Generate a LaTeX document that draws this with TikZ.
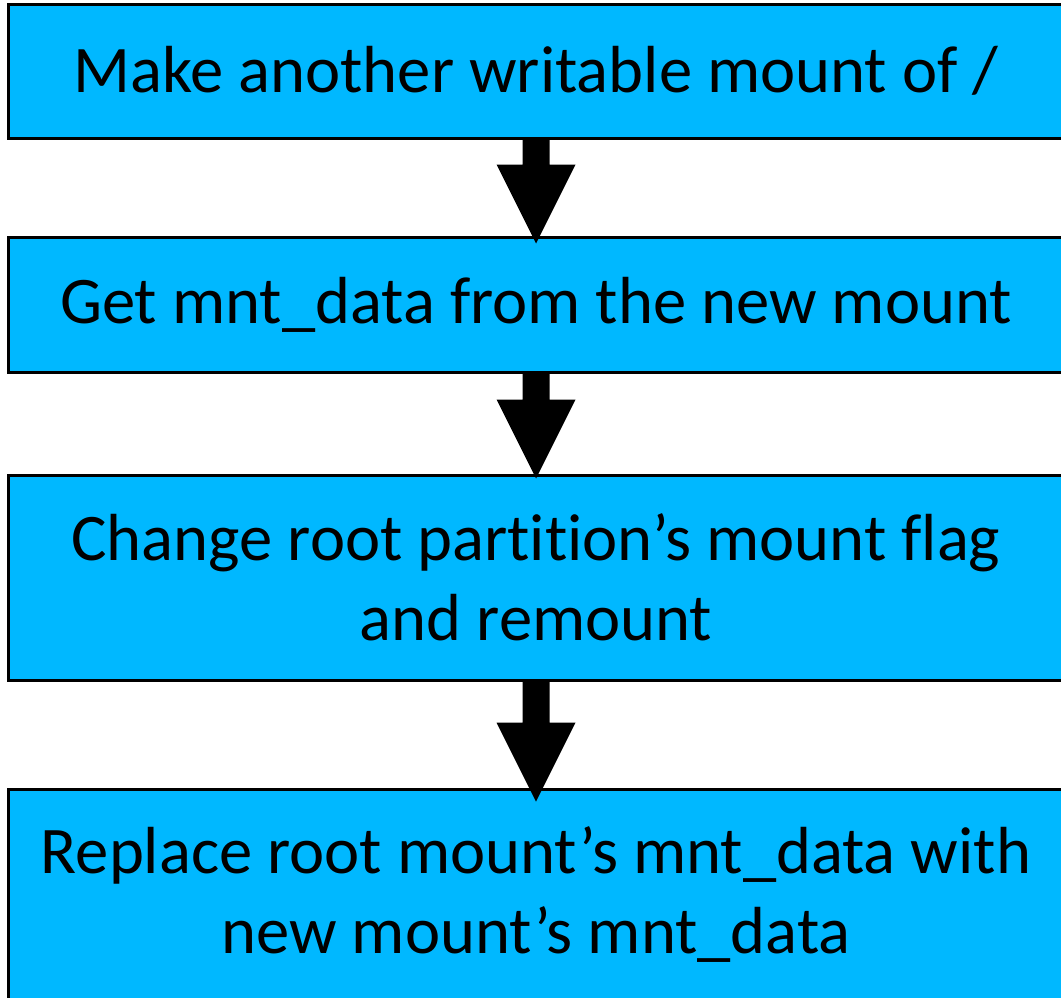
\documentclass[tikz,border=0pt]{standalone}
\usepackage{fontspec}
\setmainfont{Carlito}[Ligatures=NoCommon]
\usetikzlibrary{calc}
\definecolor{stepblue}{RGB}{0,184,255}
\tikzset{
  stepbox/.style={draw=black, line width=3pt, fill=stepblue, rectangle,
    minimum width=1056pt, inner sep=0pt, align=center,
    font=\fontsize{66.6}{80}\selectfont},
  flowarrow/.style={fill=black}
}
% Down arrow from the bottom of one box into the top of the next;
% #3 is how far the tip reaches past the top border.
\newcommand\stepdownarrow[3]{%
  \fill[flowarrow]
    ($(#1.south)+(-13.5,0)$) -- ($(#2.north)+(-13.5,79-#3)$)
    -- ($(#2.north)+(-39.5,79-#3)$) -- ($(#2.north)+(0,-#3)$)
    -- ($(#2.north)+(39.5,79-#3)$) -- ($(#2.north)+(13.5,79-#3)$)
    -- ($(#1.south)+(13.5,0)$) -- cycle;}
\begin{document}
\begin{tikzpicture}[x=1pt,y=1pt]
  \useasboundingbox (0,0) rectangle (1061,-997);
  \clip (0,0) rectangle (1061,-997);
  \node[stepbox, minimum height=134pt] (b1) at (536,-71)
    {Make another writable mount of /};
  \node[stepbox, minimum height=135pt] (b2) at (536,-304.5)
    {Get mnt\_data from the new mount};
  \node[stepbox, minimum height=204.5pt] (b3) at (536,-577.75)
    {Change root partition’s mount flag\\and remount};
  \node[stepbox, minimum height=211pt] (b4) at (536,-894.5)
    {Replace root mount’s mnt\_data with\\new mount’s mnt\_data};
  \stepdownarrow{b1}{b2}{8}
  \stepdownarrow{b2}{b3}{4.5}
  \stepdownarrow{b3}{b4}{14}
\end{tikzpicture}
\end{document}
